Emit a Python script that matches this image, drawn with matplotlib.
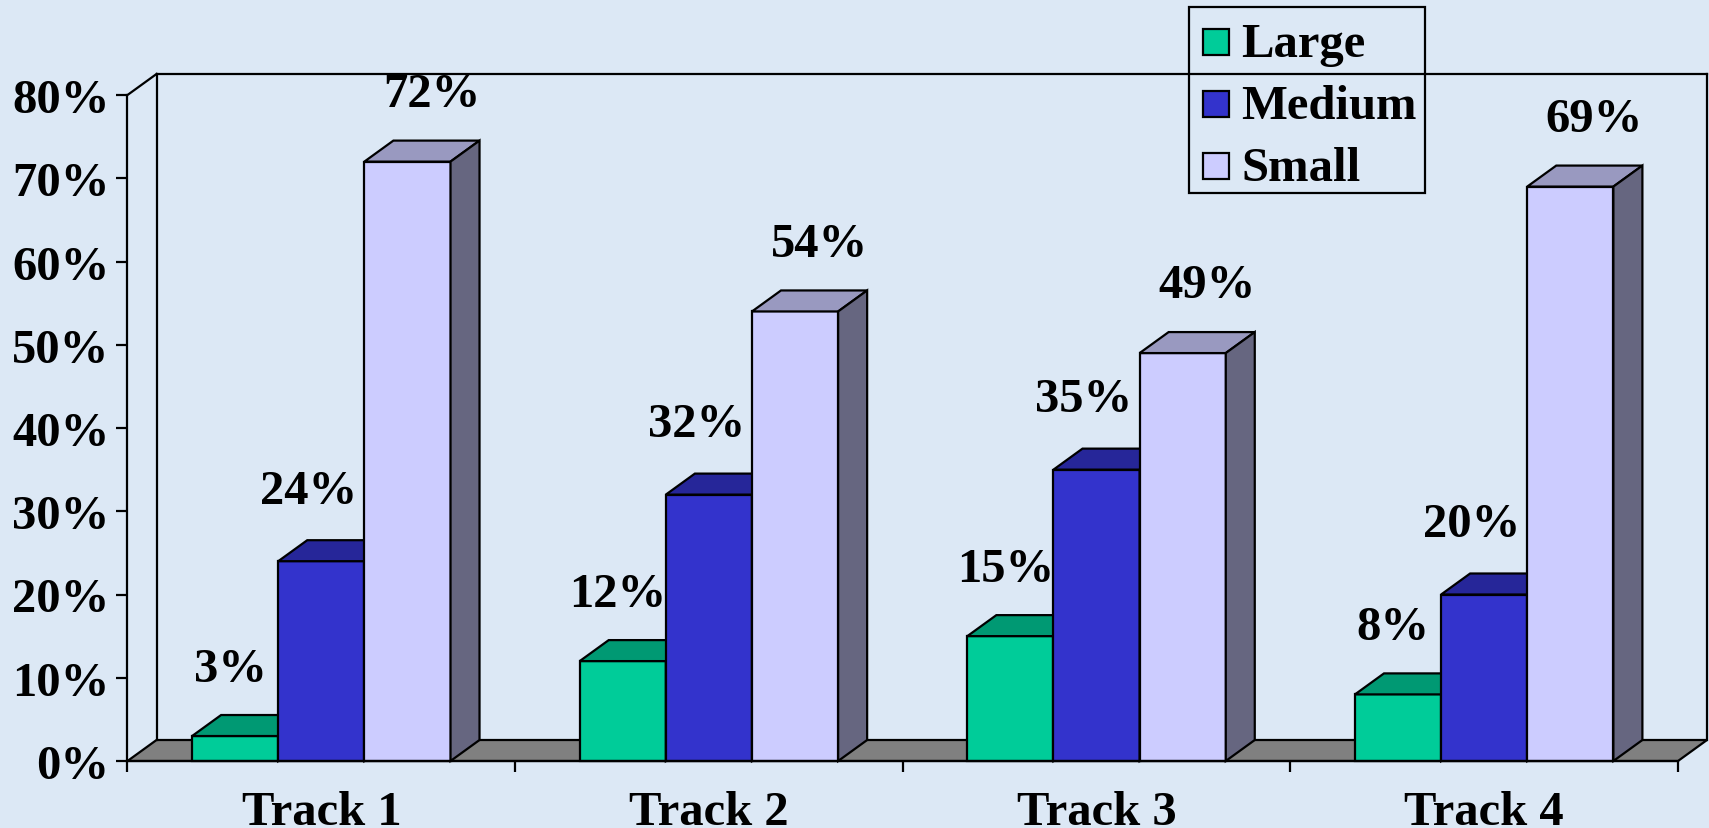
import numpy as np
import matplotlib.pyplot as plt
from matplotlib.patches import Rectangle, Polygon

plt.rcParams['font.family'] = ['Liberation Serif', 'DejaVu Serif']
plt.rcParams['font.weight'] = 'bold'

tracks = ['Track 1', 'Track 2', 'Track 3', 'Track 4']
series = ['Large', 'Medium', 'Small']
large = [3, 12, 15, 8]
medium = [24, 32, 35, 20]
small = [72, 54, 49, 69]
y_ticks = [0, 10, 20, 30, 40, 50, 60, 70, 80]

# front, top, side colours per series
front_colors = ['#00CC99', '#3333CC', '#CCCCFF']
top_colors = ['#009973', '#262699', '#9999C0']
side_colors = ['#007A5C', '#1F1F80', '#666680']

bg = '#DCE8F5'
fs = 35
W, H = 1709, 829
fig = plt.figure(figsize=(W / 100, H / 100), dpi=100, facecolor=bg)
ax = fig.add_axes([127.5 / W, 67 / H, 1550.5 / W, 666 / H])
ax.set_facecolor('none')
ax.set_xlim(0, 4)
ax.set_ylim(0, 80)

# oblique depth of the 3d box, in data units
dx = 29 / 387.6
dy = 21 / 8.325
lw = 1.6
bar_w = 1 / 4.5
gap = 0.75 * bar_w

# floor
ax.add_patch(Polygon([(0, 0), (4, 0), (4 + dx, dy), (dx, dy)], closed=True,
                     facecolor='#808080', edgecolor='black', lw=lw,
                     clip_on=False, zorder=1))
# walls
wall_kw = dict(color='black', lw=lw, clip_on=False, zorder=1)
ax.plot([0, dx], [80, 80 + dy], **wall_kw)
ax.plot([dx, dx], [dy, 80 + dy], **wall_kw)
ax.plot([dx, 4 + dx], [80 + dy, 80 + dy], **wall_kw)
ax.plot([4 + dx, 4 + dx], [dy, 80 + dy], **wall_kw)

# label offsets (x in data units, y in percent) for each series
lab_dx = [-5 / 387.6, -12.5 / 387.6, 24 / 387.6]
lab_dy = [6.6, 7.0, 6.7]

z = 2
for i in range(len(tracks)):
    for j, vals in enumerate([large, medium, small]):
        h = vals[i]
        x0 = i + gap + j * bar_w
        ax.add_patch(Rectangle((x0, 0), bar_w, h, facecolor=front_colors[j],
                               edgecolor='black', lw=lw, clip_on=False, zorder=z))
        ax.add_patch(Polygon([(x0, h), (x0 + bar_w, h), (x0 + bar_w + dx, h + dy),
                              (x0 + dx, h + dy)], closed=True,
                             facecolor=top_colors[j], edgecolor='black', lw=lw,
                             clip_on=False, zorder=z))
        ax.add_patch(Polygon([(x0 + bar_w, 0), (x0 + bar_w + dx, dy),
                              (x0 + bar_w + dx, h + dy), (x0 + bar_w, h)], closed=True,
                             facecolor=side_colors[j], edgecolor='black', lw=lw,
                             clip_on=False, zorder=z))
        z += 1
        ax.text(x0 + bar_w / 2 + lab_dx[j], h + lab_dy[j], f'{h}%',
                ha='center', va='baseline', fontsize=fs, fontweight='bold',
                zorder=50)

# axes
for s in ['top', 'right']:
    ax.spines[s].set_visible(False)
for s in ['left', 'bottom']:
    ax.spines[s].set_linewidth(lw)
    ax.spines[s].set_zorder(40)

ax.set_yticks(y_ticks)
ax.set_yticklabels([f'{t}%' for t in y_ticks])
ax.tick_params(axis='y', direction='out', length=7.6, width=lw, pad=5.5,
               labelsize=fs)

ax.set_xticks(range(5))
ax.set_xticklabels([])
ax.set_xticks(np.arange(4) + 0.5, minor=True)
ax.set_xticklabels(tracks, minor=True)
ax.tick_params(axis='x', which='major', direction='out', length=7.6, width=lw)
ax.tick_params(axis='x', which='minor', length=0, pad=21, labelsize=fs)

# legend box
def fx(x):
    return x / W

def fy(y):
    return 1 - y / H

fig.patches.append(Rectangle((fx(1188.5), fy(193.5)), (1424.5 - 1188.5) / W,
                             (193.5 - 7.5) / H, transform=fig.transFigure,
                             facecolor='none', edgecolor='black', lw=lw, zorder=60))
for k, (name, centre) in enumerate(zip(series, [42.7, 105, 166.7])):
    fig.patches.append(Rectangle((fx(1203), fy(centre + 13)), 26 / W, 26 / H,
                                 transform=fig.transFigure,
                                 facecolor=front_colors[k], edgecolor='black',
                                 lw=lw, zorder=61))
    fig.text(fx(1241), fy(centre + 14), name, fontsize=fs, fontweight='bold',
             ha='left', va='baseline', zorder=62)

fig.savefig('out.png', dpi=100, facecolor=bg)
